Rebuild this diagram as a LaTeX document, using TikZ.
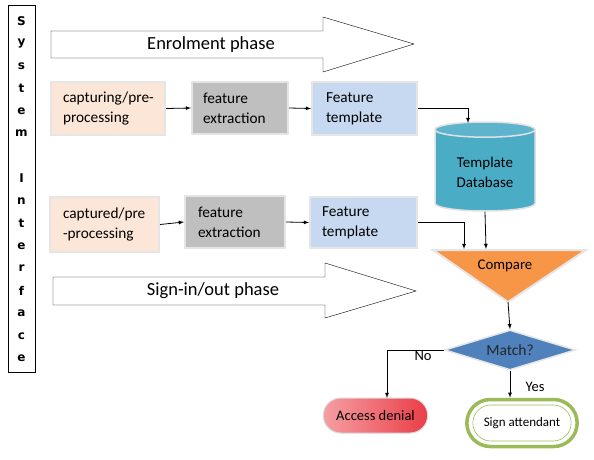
\documentclass[tikz,border=0pt]{standalone}
\usepackage{fontspec}
\setmainfont{Carlito}
\newfontfamily\sysfont{DejaVu Sans}
\usetikzlibrary{arrows,positioning,shapes.geometric,shapes.misc,shadows}
\definecolor{peach}{RGB}{252,230,215}
\definecolor{featgray}{RGB}{191,191,191}
\definecolor{tplblue}{RGB}{198,217,241}
\definecolor{dbteal}{RGB}{75,172,198}
\definecolor{cmporange}{RGB}{247,150,70}
\definecolor{matchblue}{RGB}{79,129,189}
\definecolor{signgreen}{RGB}{155,187,89}
\definecolor{denyred}{RGB}{232,40,50}

\begin{document}
\begin{tikzpicture}[x=1pt,y=-1pt,
  box/.style={draw=black!10, line width=2pt, inner xsep=0pt, align=left,
    drop shadow={shadow xshift=1.2pt, shadow yshift=-1.2pt, opacity=.3},
    font=\fontsize{15.3}{20}\selectfont},
  phase/.style={draw, thin, fill=white},
  phasetext/.style={font=\fontsize{18.5}{20}\selectfont},
  link/.style={-latex, line width=0.8pt},
  lbl/.style={font=\fontsize{14.5}{16}\selectfont}]
\useasboundingbox (0,0) rectangle (594,460);
\node[draw, semithick, minimum width=27, minimum height=367, inner sep=0] (sys) at (21.5,188.5) {};
\foreach \c [count=\i from 0] in {S,y,s,t,e,m,{},I,n,t,e,r,f,a,c,e}
  \node[font=\sysfont\bfseries\fontsize{12}{12}\selectfont] (sysl\i) at (21.5,21+22.5*\i) {\c};
\draw[phase] (51,31) -- (323,31) -- (323,17) -- (414,44) -- (323,72) -- (323,58) -- (51,58) -- cycle;
\node[phasetext] (enrol) at (211,45) {Enrolment phase};
\draw[phase] (53,277) -- (325,277) -- (325,263) -- (416,291) -- (325,318) -- (325,305) -- (53,305) -- cycle;
\node[phasetext] (signin) at (213,291) {Sign-in/out phase};
\node[box, fill=peach, minimum width=114, minimum height=53, text width=90] (cap1) at (108,108.5) {\mbox{capturing/pre-}\\processing};
\node[box, fill=featgray, minimum width=96, minimum height=52, text width=74] (feat1) at (240,108) {feature\\extraction};
\node[box, fill=tplblue, minimum width=105, minimum height=53, text width=77] (tpl1) at (364.5,108.5) {Feature\\template};
\node[box, fill=peach, minimum width=109, minimum height=55, text width=83] (cap2) at (104.5,224.5) {\mbox{captured/pre}\\-processing};
\node[box, fill=featgray, minimum width=100, minimum height=52, text width=74] (feat2) at (235,222) {feature\\extraction};
\node[box, fill=tplblue, minimum width=107, minimum height=51, text width=83] (tpl2) at (363.5,222.5) {Feature\\template};
\node[cylinder, shape border rotate=90, aspect=0.24, minimum width=100, minimum height=89,
  draw=black!12, line width=1.5pt, cylinder uses custom fill, cylinder body fill=dbteal,
  cylinder end fill=dbteal!90!white, align=center, anchor=shape center,
  font=\fontsize{15}{20}\selectfont] (db) at (485,166.5) {Template\\Database};
\draw[link] (cap1.east) -- (feat1.west);
\draw[link] (feat1.east) -- (tpl1.west);
\coordinate (dbin) at (468,123);
\draw[link] (tpl1.east) -| (dbin);
\draw[link] (cap2.east) -- (feat2.west);
\draw[link] (feat2.east) -- (tpl2.west);
\draw[fill=cmporange, draw=black!10, line width=2pt] (433,250) -- (586,250) -- (508,302) -- cycle;
\node[lbl, font=\fontsize{14.8}{16}\selectfont] (cmp) at (505,266) {Compare};
\coordinate (cmpa) at (464,249);
\coordinate (cmpb) at (486,249);
\coordinate (cmpapex) at (508,302);
\draw[link] (tpl2.east) -| (cmpa);
\draw[link] (db.south) -- (cmpb);
\node[diamond, aspect=3.3, fill=matchblue, draw=black!10, line width=1.5pt, minimum width=131,
  minimum height=40, inner sep=0, text=black!85, font=\fontsize{15.5}{16}\selectfont] (match) at (510,350) {Match?};
\draw[link] (cmpapex) -- (match.north);
\node[rounded rectangle, minimum width=111, minimum height=35, draw=black!15, line width=1pt,
  left color=denyred!45!white, middle color=denyred!8!white, right color=denyred!90!white, lbl] (deny) at (375.5,415.5) {Access denial};
\node[rounded rectangle, minimum width=117, minimum height=47, draw=signgreen, line width=3.5pt,
  fill=white, font=\fontsize{13}{14}\selectfont] (sign) at (522,423) {Sign attendant};
\node[rounded rectangle, minimum width=105, minimum height=36, draw=signgreen, line width=0.6pt] (signring) at (sign) {};
\coordinate (denyin) at (387,398);
\draw[link] (match.west) -| (denyin);
\node[lbl] (no) at (423,356) {No};
\draw[link] (match.south) -- (match.south |- sign.north);
\node[lbl] (yes) at (535,387) {Yes};
\end{tikzpicture}
\end{document}
